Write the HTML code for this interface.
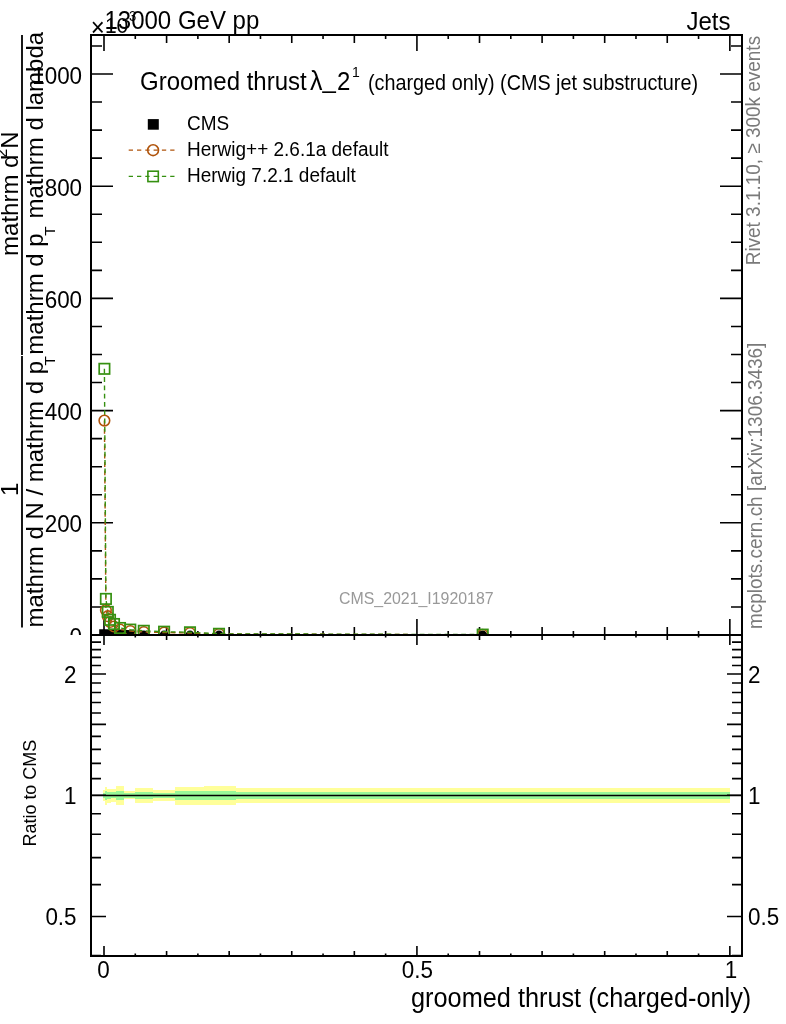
<!DOCTYPE html>
<html><head><meta charset="utf-8"><title>Groomed thrust</title><style>
html,body{margin:0;padding:0;background:#fff;}
svg{display:block;}
text{font-family:"Liberation Sans",Arial,Helvetica,sans-serif;}
</style></head><body>
<svg width="786" height="1024" viewBox="0 0 786 1024">
<rect x="0" y="0" width="786" height="1024" fill="#fff"/>
<defs>
<clipPath id="cu"><rect x="91" y="35" width="651" height="600"/></clipPath>
</defs>
<path d="M104.00 35v16M104.00 635v-16M135.29 35v4M135.29 635v-4M166.59 35v8M166.59 635v-8M197.88 35v4M197.88 635v-4M229.17 35v8M229.17 635v-8M260.46 35v4M260.46 635v-4M291.75 35v8M291.75 635v-8M323.05 35v4M323.05 635v-4M354.34 35v8M354.34 635v-8M385.63 35v4M385.63 635v-4M416.93 35v16M416.93 635v-16M448.22 35v4M448.22 635v-4M479.51 35v8M479.51 635v-8M510.80 35v4M510.80 635v-4M542.10 35v8M542.10 635v-8M573.39 35v4M573.39 635v-4M604.68 35v8M604.68 635v-8M635.97 35v4M635.97 635v-4M667.26 35v8M667.26 635v-8M698.56 35v4M698.56 635v-4M729.85 35v16M729.85 635v-16M91 635.00h22M742 635.00h-22M91 606.95h11M742 606.95h-11M91 578.90h11M742 578.90h-11M91 550.85h11M742 550.85h-11M91 522.80h22M742 522.80h-22M91 494.75h11M742 494.75h-11M91 466.70h11M742 466.70h-11M91 438.65h11M742 438.65h-11M91 410.60h22M742 410.60h-22M91 382.55h11M742 382.55h-11M91 354.50h11M742 354.50h-11M91 326.45h11M742 326.45h-11M91 298.40h22M742 298.40h-22M91 270.35h11M742 270.35h-11M91 242.30h11M742 242.30h-11M91 214.25h11M742 214.25h-11M91 186.20h22M742 186.20h-22M91 158.15h11M742 158.15h-11M91 130.10h11M742 130.10h-11M91 102.05h11M742 102.05h-11M91 74.00h22M742 74.00h-22M91 45.95h11M742 45.95h-11" stroke="#000" stroke-width="1.6" fill="none"/>
<g clip-path="url(#cu)">
<path d="M99.2 635V629.3H117L135 630.6V635Z" fill="#000"/><circle cx="143.8" cy="635.2" r="4.6" fill="#000"/><circle cx="164.1" cy="635.2" r="4.6" fill="#000"/><circle cx="190.0" cy="635.2" r="4.6" fill="#000"/><circle cx="219.0" cy="635.2" r="4.6" fill="#000"/><circle cx="482.7" cy="635.2" r="4.6" fill="#000"/>
<polyline points="104.4,420.6 105.9,610.1 107.8,616.2 110.0,622.0 114.0,626.5 120.0,629.5 130.3,631.0 143.8,632.0 164.1,632.5 190.0,633.0 219.0,634.0 482.7,634.8" fill="none" stroke="#b0540c" stroke-width="1.4" stroke-dasharray="4.8,3.5"/>
<polyline points="104.4,368.8 105.9,598.9 107.8,611.9 110.0,619.8 114.0,624.0 120.0,628.0 130.3,629.6 143.8,630.8 164.1,631.7 190.0,632.3 219.0,633.8 482.7,634.6" fill="none" stroke="#359010" stroke-width="1.4" stroke-dasharray="4.8,3.5"/>
<circle cx="104.4" cy="420.6" r="5.3" fill="none" stroke="#b0540c" stroke-width="1.6"/><circle cx="105.9" cy="610.1" r="5.3" fill="none" stroke="#b0540c" stroke-width="1.6"/><circle cx="107.8" cy="616.2" r="5.3" fill="none" stroke="#b0540c" stroke-width="1.6"/><circle cx="110.0" cy="622.0" r="5.3" fill="none" stroke="#b0540c" stroke-width="1.6"/><circle cx="114.0" cy="626.5" r="5.3" fill="none" stroke="#b0540c" stroke-width="1.6"/><circle cx="120.0" cy="629.5" r="5.3" fill="none" stroke="#b0540c" stroke-width="1.6"/><circle cx="130.3" cy="631.0" r="5.3" fill="none" stroke="#b0540c" stroke-width="1.6"/><circle cx="143.8" cy="632.0" r="5.3" fill="none" stroke="#b0540c" stroke-width="1.6"/><circle cx="164.1" cy="632.5" r="5.3" fill="none" stroke="#b0540c" stroke-width="1.6"/><circle cx="190.0" cy="633.0" r="5.3" fill="none" stroke="#b0540c" stroke-width="1.6"/><circle cx="219.0" cy="634.0" r="5.3" fill="none" stroke="#b0540c" stroke-width="1.6"/><circle cx="482.7" cy="634.8" r="5.3" fill="none" stroke="#b0540c" stroke-width="1.6"/>
<rect x="99.2" y="363.6" width="10.4" height="10.4" fill="none" stroke="#359010" stroke-width="1.7"/><rect x="100.7" y="593.7" width="10.4" height="10.4" fill="none" stroke="#359010" stroke-width="1.7"/><rect x="102.6" y="606.7" width="10.4" height="10.4" fill="none" stroke="#359010" stroke-width="1.7"/><rect x="104.8" y="614.6" width="10.4" height="10.4" fill="none" stroke="#359010" stroke-width="1.7"/><rect x="108.8" y="618.8" width="10.4" height="10.4" fill="none" stroke="#359010" stroke-width="1.7"/><rect x="114.8" y="622.8" width="10.4" height="10.4" fill="none" stroke="#359010" stroke-width="1.7"/><rect x="125.1" y="624.4" width="10.4" height="10.4" fill="none" stroke="#359010" stroke-width="1.7"/><rect x="138.6" y="625.6" width="10.4" height="10.4" fill="none" stroke="#359010" stroke-width="1.7"/><rect x="158.9" y="626.5" width="10.4" height="10.4" fill="none" stroke="#359010" stroke-width="1.7"/><rect x="184.8" y="627.1" width="10.4" height="10.4" fill="none" stroke="#359010" stroke-width="1.7"/><rect x="213.8" y="628.6" width="10.4" height="10.4" fill="none" stroke="#359010" stroke-width="1.7"/><rect x="477.5" y="629.4" width="10.4" height="10.4" fill="none" stroke="#359010" stroke-width="1.7"/>
</g>
<rect x="91" y="35" width="651" height="600" fill="none" stroke="#000" stroke-width="2"/>
<text transform="translate(82.10,644.50) scale(0.947,1)" font-size="23.7" text-anchor="end">0</text>
<text transform="translate(82.10,532.30) scale(0.947,1)" font-size="23.7" text-anchor="end">200</text>
<text transform="translate(82.10,420.10) scale(0.947,1)" font-size="23.7" text-anchor="end">400</text>
<text transform="translate(82.10,307.90) scale(0.947,1)" font-size="23.7" text-anchor="end">600</text>
<text transform="translate(82.10,195.70) scale(0.947,1)" font-size="23.7" text-anchor="end">800</text>
<text transform="translate(82.10,83.50) scale(0.947,1)" font-size="23.7" text-anchor="end">1000</text>
<text transform="translate(90.8,35.6) scale(1,1.07)" font-size="24">&#215;</text>
<text transform="translate(104.9,32.5) scale(1,1.07)" font-size="21">10</text>
<text transform="translate(129,20.5) scale(1,1.07)" font-size="13">3</text>
<text transform="translate(104.5,29) scale(1,1.07)" font-size="24">13000 GeV pp</text>
<text transform="translate(730.5,29.7) scale(1,1.07)" font-size="24" text-anchor="end">Jets</text>
<text transform="translate(140,89.6) scale(1,1.07)" font-size="24">Groomed thrust</text>
<text transform="translate(310,89.6) scale(1,1.07)" font-size="25">&#955;</text>
<text transform="translate(322.5,88.4) scale(1,1.07)" font-size="24">_</text>
<text transform="translate(337,89.6) scale(1,1.07)" font-size="24">2</text>
<text transform="translate(352,77) scale(1,1.07)" font-size="14">1</text>
<text transform="translate(368,89.6) scale(1,1.07)" font-size="19.8">(charged only) (CMS jet substructure)</text>
<rect x="147.8" y="119.1" width="11" height="10.6" fill="#000"/>
<path d="M128.7 150.2H175.2" stroke="#b0540c" stroke-width="1.2" stroke-dasharray="4.3,4"/>
<circle cx="153.1" cy="150.2" r="5.4" fill="none" stroke="#b0540c" stroke-width="1.6"/>
<path d="M128.7 176.3H175.2" stroke="#359010" stroke-width="1.2" stroke-dasharray="4.3,4"/>
<rect x="147.9" y="171.2" width="10.4" height="10.4" fill="none" stroke="#359010" stroke-width="1.6"/>
<text transform="translate(187,130) scale(1,1.07)" font-size="19">CMS</text>
<text transform="translate(187,156) scale(1,1.07)" font-size="19">Herwig++ 2.6.1a default</text>
<text transform="translate(187,182.2) scale(1,1.07)" font-size="19">Herwig 7.2.1 default</text>
<text transform="translate(339,604) scale(1,1.07)" font-size="15.9" fill="#999">CMS_2021_I1920187</text>
<text transform="translate(759.6,265.3) rotate(-90) scale(0.92,1)" font-size="20.6" fill="#7a7a7a">Rivet 3.1.10, &#8805; 300k events</text>
<text transform="translate(761.7,629) rotate(-90) scale(0.92,1)" font-size="20.6" fill="#7a7a7a">mcplots.cern.ch [arXiv:1306.3436]</text>
<path d="M22 35V355M22 356V627.6" stroke="#000" stroke-width="1.8"/>
<g transform="rotate(-90)">
<text x="-627.6" y="42.5" font-size="24">mathrm d N / mathrm d p</text>
<text x="-365.4" y="55.4" font-size="15.5">T</text>
<text x="-354.7" y="42.5" font-size="24">mathrm d p</text>
<text x="-235.7" y="55.4" font-size="15.5">T</text>
<text x="-218.6" y="42.5" font-size="24">mathrm d lambda</text>
<text x="-496" y="18" font-size="24">1</text>
<text x="-255.9" y="18" font-size="24">mathrm d</text>
<text x="-157.5" y="7" font-size="16">2</text>
<text x="-148.8" y="18" font-size="24">N</text>
</g>
<rect x="0" y="635" width="786" height="389" fill="#fff"/>
<rect shape-rendering="crispEdges" x="103" y="789.9" width="2.0" height="10.7" fill="#ffff9a"/><rect shape-rendering="crispEdges" x="105" y="787.1" width="2.3" height="17.5" fill="#ffff9a"/><rect shape-rendering="crispEdges" x="107.3" y="789.1" width="4.1" height="13.8" fill="#ffff9a"/><rect shape-rendering="crispEdges" x="111.4" y="789.1" width="4.6" height="13.0" fill="#ffff9a"/><rect shape-rendering="crispEdges" x="116" y="786.1" width="8.2" height="18.8" fill="#ffff9a"/><rect shape-rendering="crispEdges" x="124.2" y="791" width="10.7" height="8.3" fill="#ffff9a"/><rect shape-rendering="crispEdges" x="134.9" y="788" width="17.7" height="15.0" fill="#ffff9a"/><rect shape-rendering="crispEdges" x="152.6" y="790.3" width="22.5" height="10.5" fill="#ffff9a"/><rect shape-rendering="crispEdges" x="175.1" y="787.1" width="28.5" height="17.6" fill="#ffff9a"/><rect shape-rendering="crispEdges" x="203.6" y="786.1" width="32.0" height="19.1" fill="#ffff9a"/><rect shape-rendering="crispEdges" x="235.6" y="788.1" width="494.4" height="14.8" fill="#ffff9a"/><rect shape-rendering="crispEdges" x="103" y="792.7" width="2.0" height="5.1" fill="#98f898"/><rect shape-rendering="crispEdges" x="105" y="790.9" width="2.3" height="8.9" fill="#98f898"/><rect shape-rendering="crispEdges" x="107.3" y="791.9" width="4.1" height="6.9" fill="#98f898"/><rect shape-rendering="crispEdges" x="111.4" y="792.2" width="4.6" height="5.6" fill="#98f898"/><rect shape-rendering="crispEdges" x="116" y="790.7" width="8.2" height="9.3" fill="#98f898"/><rect shape-rendering="crispEdges" x="124.2" y="792.9" width="10.7" height="4.7" fill="#98f898"/><rect shape-rendering="crispEdges" x="134.9" y="791.8" width="17.7" height="7.4" fill="#98f898"/><rect shape-rendering="crispEdges" x="152.6" y="792.8" width="22.5" height="5.1" fill="#98f898"/><rect shape-rendering="crispEdges" x="175.1" y="791" width="28.5" height="8.8" fill="#98f898"/><rect shape-rendering="crispEdges" x="203.6" y="790.7" width="32.0" height="9.7" fill="#98f898"/><rect shape-rendering="crispEdges" x="235.6" y="791.8" width="494.4" height="7.2" fill="#98f898"/>
<path d="M91 795.5H742" stroke="#000" stroke-width="1.5"/>
<path d="M104.00 635v10M104.00 956v-10M135.29 635v2.5M135.29 956v-2.5M166.59 635v5M166.59 956v-5M197.88 635v2.5M197.88 956v-2.5M229.17 635v5M229.17 956v-5M260.46 635v2.5M260.46 956v-2.5M291.75 635v5M291.75 956v-5M323.05 635v2.5M323.05 956v-2.5M354.34 635v5M354.34 956v-5M385.63 635v2.5M385.63 956v-2.5M416.93 635v10M416.93 956v-10M448.22 635v2.5M448.22 956v-2.5M479.51 635v5M479.51 956v-5M510.80 635v2.5M510.80 956v-2.5M542.10 635v5M542.10 956v-5M573.39 635v2.5M573.39 956v-2.5M604.68 635v5M604.68 956v-5M635.97 635v2.5M635.97 956v-2.5M667.26 635v5M667.26 956v-5M698.56 635v2.5M698.56 956v-2.5M729.85 635v10M729.85 956v-10M91 955.52h10M742 955.52h-10M91 916.49h15M742 916.49h-15M91 884.60h10M742 884.60h-10M91 857.64h10M742 857.64h-10M91 834.29h10M742 834.29h-10M91 813.69h10M742 813.69h-10M91 795.26h15M742 795.26h-15M91 778.59h10M742 778.59h-10M91 763.37h10M742 763.37h-10M91 749.37h10M742 749.37h-10M91 736.41h10M742 736.41h-10M91 724.34h15M742 724.34h-15M91 713.06h10M742 713.06h-10M91 702.45h10M742 702.45h-10M91 692.46h10M742 692.46h-10M91 683.00h10M742 683.00h-10M91 674.03h15M742 674.03h-15M91 665.49h10M742 665.49h-10M91 657.36h10M742 657.36h-10M91 649.58h10M742 649.58h-10M91 642.14h10M742 642.14h-10M91 635.00h10M742 635.00h-10" stroke="#000" stroke-width="1.6" fill="none"/>
<rect x="91" y="635" width="651" height="321" fill="none" stroke="#000" stroke-width="2"/>
<text transform="translate(76.60,682.83) scale(0.947,1)" font-size="23.7" text-anchor="end">2</text>
<text transform="translate(748.00,682.83) scale(0.947,1)" font-size="23.7">2</text>
<text transform="translate(76.60,804.06) scale(0.947,1)" font-size="23.7" text-anchor="end">1</text>
<text transform="translate(748.00,804.06) scale(0.947,1)" font-size="23.7">1</text>
<text transform="translate(76.60,925.29) scale(0.947,1)" font-size="23.7" text-anchor="end">0.5</text>
<text transform="translate(748.00,925.29) scale(0.947,1)" font-size="23.7">0.5</text>
<text transform="translate(103.50,978.30) scale(0.947,1)" font-size="23.7" text-anchor="middle">0</text>
<text transform="translate(417.30,978.30) scale(0.947,1)" font-size="23.7" text-anchor="middle">0.5</text>
<text transform="translate(731.00,978.30) scale(0.947,1)" font-size="23.7" text-anchor="middle">1</text>
<text transform="translate(751.2,1007) scale(1,1.07)" font-size="25.3" text-anchor="end">groomed thrust (charged-only)</text>
<text transform="translate(36,846.5) rotate(-90) scale(0.935,1)" font-size="19.2">Ratio to CMS</text>
</svg></body></html>
